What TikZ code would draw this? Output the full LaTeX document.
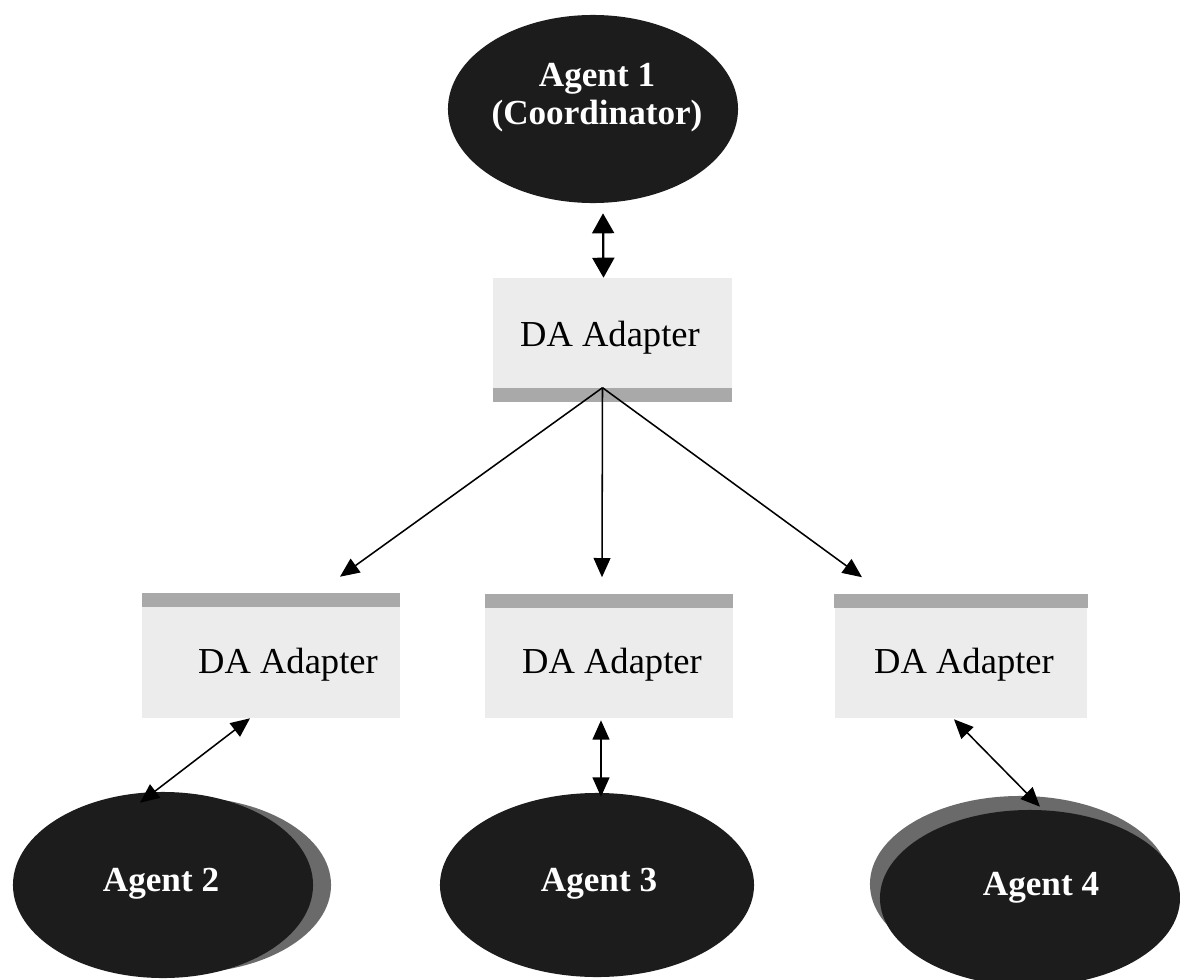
\documentclass[tikz,border=0pt]{standalone}
\usepackage{fontspec}
\setmainfont{Liberation Serif}
\usetikzlibrary{shapes.geometric,arrows.meta,calc}
\definecolor{agentfill}{HTML}{1C1C1C}
\definecolor{rimgray}{HTML}{6A6A6A}
\definecolor{boxfill}{HTML}{ECECEC}
\definecolor{bargray}{HTML}{A9A9A9}
\tikzset{
  agent/.style={ellipse, fill=agentfill, draw=none, inner sep=0pt},
  rim/.style={ellipse, fill=rimgray, draw=none, inner sep=0pt},
  agenttext/.style={text=white, font=\fontsize{25}{27}\selectfont\bfseries, align=center, inner sep=0pt},
  adapter/.style={rectangle, fill=boxfill, draw=none, inner sep=0pt, minimum height=2.775cm},
  bar/.style={rectangle, fill=bargray, draw=none, inner sep=0pt, minimum height=0.35cm},
  adtext/.style={font=\fontsize{26}{28}\selectfont, inner sep=0pt},
  bigdbl/.style={line width=1.6pt, {Triangle[length=0.5cm,width=0.55cm]}-{Triangle[length=0.5cm,width=0.55cm]}},
  dbl/.style={line width=1.1pt, {Triangle[length=0.48cm,width=0.42cm]}-{Triangle[length=0.48cm,width=0.42cm]}},
  one/.style={line width=1.1pt, -{Triangle[length=0.48cm,width=0.42cm]}}
}
\begin{document}
\begin{tikzpicture}[x=0.025cm,y=-0.025cm]
\useasboundingbox (0,0) rectangle (1180,980);
\fill[white] (0,0) rectangle (1180,980);
% agents
\node[agent, minimum width=7.25cm, minimum height=4.7cm] (a1) at (593,109) {};
\node[agenttext] (t1) at (597,98) {Agent 1\\(Coordinator)};
\node[rim, minimum width=7.3cm, minimum height=4.4cm] (r2) at (185,885) {};
\node[agent, minimum width=7.5cm, minimum height=4.65cm] (a2) at (163,885) {};
\node[agenttext] (t2) at (161,884) {Agent 2};
\node[agent, minimum width=7.85cm, minimum height=4.6cm] (a3) at (597,885) {};
\node[agenttext] (t3) at (599,884) {Agent 3};
\node[rim, minimum width=7.5cm, minimum height=4.4cm] (r4) at (1020,884) {};
\node[agent, minimum width=7.5cm, minimum height=4.4cm] (a4) at (1030,898) {};
\node[agenttext] (t4) at (1041,888) {Agent 4};
% adapters
\node[adapter, minimum width=5.975cm, minimum height=2.75cm] (top) at (612.5,333) {};
\node[bar, minimum width=5.975cm] (topbar) at (612.5,395) {};
\node[adtext] (tt) at (610,338) {DA Adapter};
\node[adapter, minimum width=6.45cm] (l) at (271,662.5) {};
\node[bar, minimum width=6.45cm] (lbar) at (271,600) {};
\node[adtext] (lt) at (288,665) {DA Adapter};
\node[adapter, minimum width=6.2cm] (m) at (609,662.5) {};
\node[bar, minimum width=6.2cm] (mbar) at (609,600.5) {};
\node[adtext] (mt) at (612,665) {DA Adapter};
\node[adapter, minimum width=6.3cm] (r) at (961,662.5) {};
\node[bar, minimum width=6.35cm] (rbar) at (961,600.5) {};
\node[adtext] (rt) at (964,665) {DA Adapter};
% connectors
\draw[bigdbl] ([xshift=0.25cm,yshift=-0.25cm]a1.south) -- ([xshift=-0.225cm]top.north);
\coordinate (o) at ([xshift=-0.25cm]topbar.north);
\draw[one] (o) -- ([xshift=1.725cm,yshift=0.4cm]lbar.north);
\draw[one] (o) -- ([xshift=-0.175cm,yshift=0.4cm]mbar.north);
\draw[one] (o) -- ([xshift=-2.475cm,yshift=0.4cm]rbar.north);
\draw[dbl] ([xshift=-0.525cm]l.south) -- ([xshift=-0.575cm,yshift=-0.275cm]a2.north);
\draw[dbl] ([xshift=-0.2cm,yshift=-0.05cm]m.south) -- ([xshift=0.1cm,yshift=-0.1cm]a3.north);
\draw[dbl] ([xshift=-0.175cm,yshift=-0.025cm]r.south) -- ([xshift=0.25cm,yshift=0.075cm]a4.north);
\end{tikzpicture}
\end{document}
